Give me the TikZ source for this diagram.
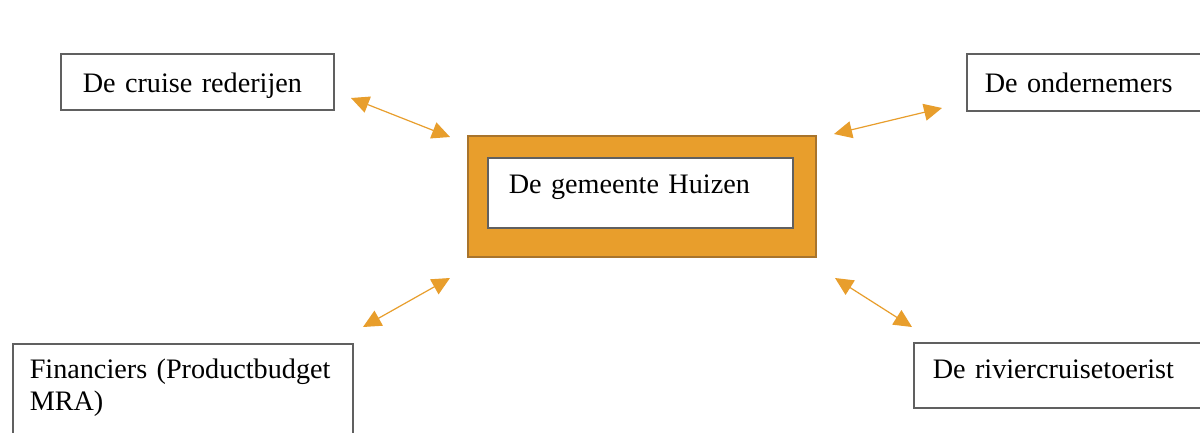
\documentclass[tikz,border=0pt]{standalone}
\usepackage{fontspec}
\setmainfont{Liberation Serif}
\usetikzlibrary{arrows.meta,positioning}
\definecolor{huizenorange}{HTML}{E89E2C}
\definecolor{framebrown}{HTML}{A8742C}
\definecolor{boxgray}{HTML}{606060}

\tikzset{
  party/.style={draw=boxgray, line width=1.5pt, fill=white, anchor=north west, align=left,
    inner ysep=0pt, font=\fontsize{28.2}{32}\selectfont},
  link/.style={{Triangle[length=18pt,width=17pt]}-{Triangle[length=18pt,width=17pt]},
    color=huizenorange, line width=1.2pt}
}

\begin{document}
\begin{tikzpicture}[x=1pt,y=-1pt]
  \clip (0,0) rectangle (1200,432);
  \fill[white] (0,0) rectangle (1200,432);

  % de gemeente in het midden
  \draw (642,196.5) node[fill=huizenorange, draw=framebrown, line width=1.2pt,
      minimum width=348pt, minimum height=121pt] (frame) {};
  \draw (487,157) node[party, inner xsep=21pt, text width=263pt, text height=36pt, text depth=34pt] (huizen) {De gemeente Huizen};

  % de partijen
  \draw (60,53) node[party, inner xsep=22pt, text width=229pt, text height=39pt, text depth=17pt] (rederijen) {De cruise rederijen};
  \draw (966,53) node[party, inner xsep=18pt, text width=260pt, text height=39pt, text depth=18pt] (ondernemers) {De ondernemers};
  \draw (12,343) node[party, inner xsep=17pt, text width=306pt, text height=35pt, text depth=100pt] (financiers) {Financiers (Productbudget\\MRA)};
  \draw (913,342) node[party, inner xsep=19pt, text width=300pt, text height=36pt, text depth=29pt] (toerist) {De riviercruisetoerist};

  \coordinate (rederijen-end) at (351,98);
  \coordinate (frame-nw) at (450,137);
  \coordinate (frame-ne) at (834,134);
  \coordinate (ondernemers-end) at (942,108);
  \coordinate (frame-sw) at (450,278);
  \coordinate (financiers-end) at (363,327);
  \coordinate (frame-se) at (835,278);
  \coordinate (toerist-end) at (912,327);

  \path[link] (rederijen-end) edge (frame-nw);
  \path[link] (frame-ne) edge (ondernemers-end);
  \path[link] (frame-sw) edge (financiers-end);
  \path[link] (frame-se) edge (toerist-end);

\end{tikzpicture}
\end{document}
